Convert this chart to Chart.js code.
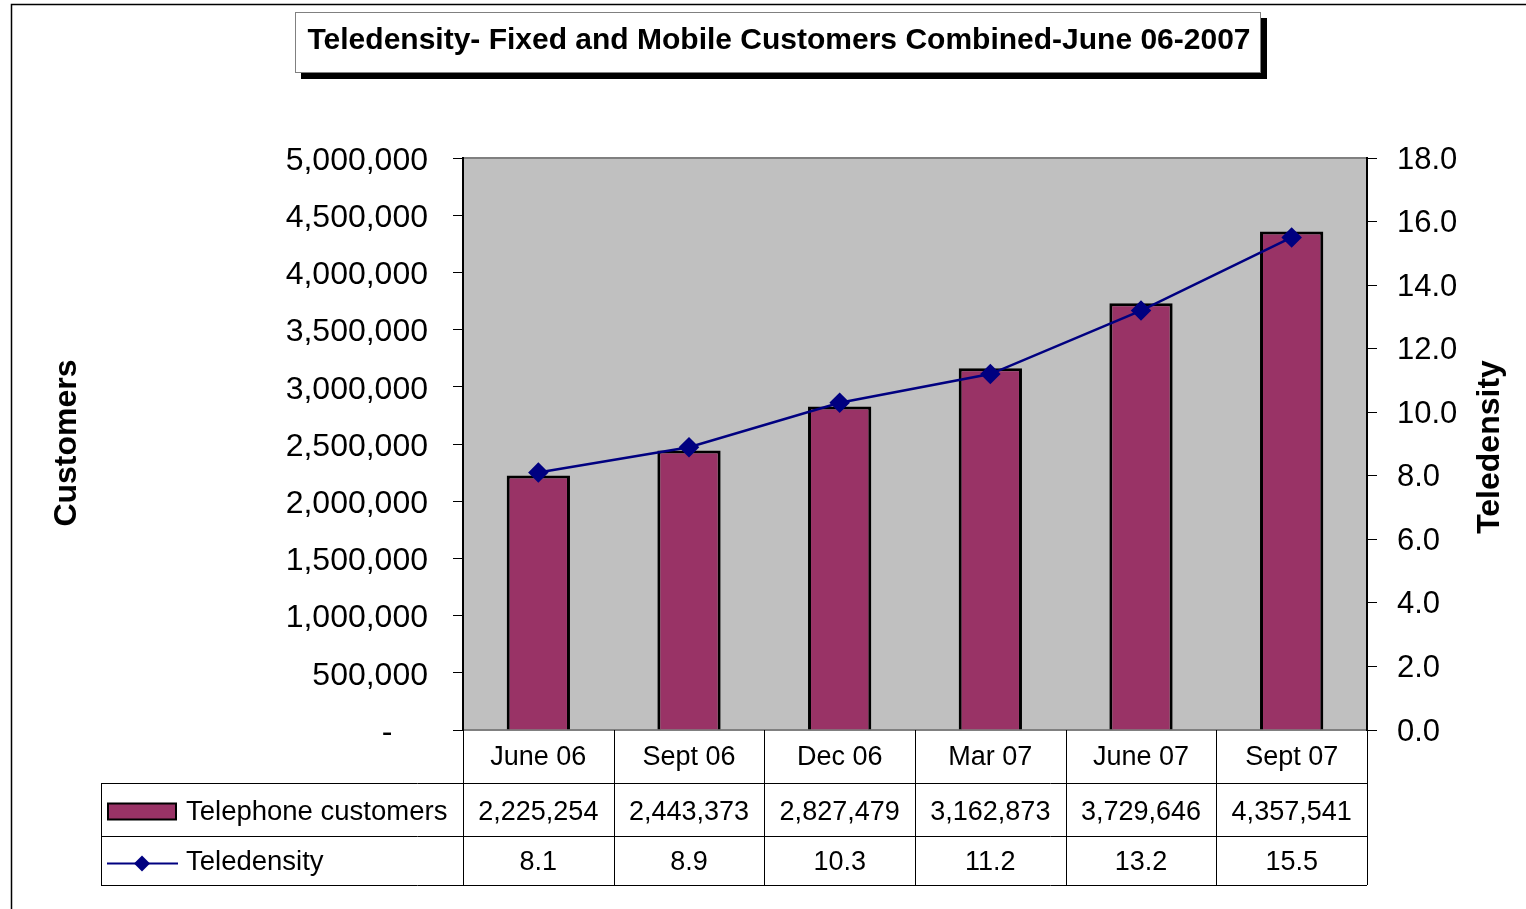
<!DOCTYPE html>
<html>
<head>
<meta charset="utf-8">
<title>Teledensity</title>
<script src="https://cdn.jsdelivr.net/npm/chart.js@4.4.1/dist/chart.umd.min.js"></script>
<style>
  html, body { margin: 0; padding: 0; background: #fff; }
  #wrap { position: relative; width: 1526px; height: 909px; }
</style>
</head>
<body>
<div id="wrap"><canvas id="teleChart"></canvas></div>
<script>
// data
const chartTitle = 'Teledensity- Fixed and Mobile Customers Combined-June 06-2007';
const periods = ['June 06', 'Sept 06', 'Dec 06', 'Mar 07', 'June 07', 'Sept 07'];
const telephoneCustomers = [2225254, 2443373, 2827479, 3162873, 3729646, 4357541];
const teledensity = [8.1, 8.9, 10.3, 11.2, 13.2, 15.5];
const customerTicks = [0, 500000, 1000000, 1500000, 2000000, 2500000, 3000000, 3500000, 4000000, 4500000, 5000000];
const densityTicks = [0, 2, 4, 6, 8, 10, 12, 14, 16, 18];
const seriesNames = ['Telephone customers', 'Teledensity'];
const leftTitle = 'Customers';
const rightTitle = 'Teledensity';

const FONT = '"Liberation Sans", Arial, sans-serif';
const barColor = '#993366';
const lineColor = '#000080';

function fmtCustomers(v) {
    if (v === 0) return '-    ';
    return v.toLocaleString('en-US');
}

// frame, title box, grey plot area
const backdrop = {
    id: 'backdrop',
    beforeDraw(chart) {
        const ctx = chart.ctx;
        const a = chart.chartArea;
        ctx.save();
        ctx.fillStyle = '#c0c0c0';
        ctx.fillRect(a.left, a.top, a.right - a.left, a.bottom - a.top);
        ctx.strokeStyle = '#808080';
        ctx.lineWidth = 2;
        ctx.strokeRect(a.left, a.top, a.right - a.left, a.bottom - a.top);

        // outer frame
        ctx.strokeStyle = '#000';
        ctx.lineWidth = 1.5;
        ctx.beginPath();
        ctx.moveTo(11.5, 909);
        ctx.lineTo(11.5, 4.5);
        ctx.lineTo(1526, 4.5);
        ctx.stroke();

        // title box with shadow
        ctx.fillStyle = '#000';
        ctx.fillRect(301, 18, 966, 61);
        ctx.fillStyle = '#fff';
        ctx.fillRect(295, 12, 965, 60);
        ctx.strokeStyle = '#808080';
        ctx.lineWidth = 1;
        ctx.strokeRect(295.5, 12.5, 965, 60);
        ctx.fillStyle = '#000';
        ctx.font = 'bold 30px ' + FONT;
        ctx.textAlign = 'center';
        ctx.textBaseline = 'middle';
        ctx.fillText(chartTitle, 779, 41);

        // axis titles, both read bottom to top
        ctx.font = 'bold 32px ' + FONT;
        ctx.save();
        ctx.translate(67, 443);
        ctx.rotate(-Math.PI / 2);
        ctx.fillText(leftTitle, 0, 0);
        ctx.restore();
        ctx.save();
        ctx.translate(1490, 447);
        ctx.rotate(-Math.PI / 2);
        ctx.fillText(rightTitle, 0, 0);
        ctx.restore();
        ctx.restore();
    }
};

// data table under the plot
const dataTable = {
    id: 'dataTable',
    afterDraw(chart) {
        const ctx = chart.ctx;
        const a = chart.chartArea;
        const xs = chart.scales.x;
        const half = (xs.getPixelForValue(1) - xs.getPixelForValue(0)) / 2;
        const rowTop = a.bottom + 53;
        const rowMid = rowTop + 53;
        const rowBot = rowMid + 49;
        const tableLeft = 101;

        ctx.save();
        ctx.strokeStyle = '#000';
        ctx.lineWidth = 1;
        ctx.beginPath();
        for (let i = 0; i <= periods.length; i++) {
            const x = Math.round(xs.getPixelForValue(0) - half + i * 2 * half) + 0.5;
            ctx.moveTo(x, a.bottom);
            ctx.lineTo(x, rowBot);
        }
        [rowTop, rowMid, rowBot].forEach(y => {
            ctx.moveTo(tableLeft, y + 0.5);
            ctx.lineTo(a.right, y + 0.5);
        });
        ctx.moveTo(tableLeft + 0.5, rowTop);
        ctx.lineTo(tableLeft + 0.5, rowBot);
        ctx.stroke();

        ctx.fillStyle = '#000';
        ctx.font = '27px ' + FONT;
        ctx.textAlign = 'center';
        ctx.textBaseline = 'middle';
        const y1 = (rowTop + rowMid) / 2 + 3;
        const y2 = (rowMid + rowBot) / 2 + 2;
        periods.forEach((p, i) => {
            const cx = xs.getPixelForValue(i);
            ctx.fillText(fmtCustomers(telephoneCustomers[i]), cx, y1);
            ctx.fillText(teledensity[i].toFixed(1), cx, y2);
        });

        // legend keys
        ctx.textAlign = 'left';
        ctx.font = '27.5px ' + FONT;
        ctx.fillText(seriesNames[0], 186, y1);
        ctx.fillText(seriesNames[1], 186, y2);
        ctx.fillStyle = barColor;
        ctx.fillRect(108, y1 - 9, 68, 16);
        ctx.lineWidth = 2;
        ctx.strokeRect(108, y1 - 9, 68, 16);
        ctx.strokeStyle = lineColor;
        ctx.beginPath();
        ctx.moveTo(107, y2 + 1);
        ctx.lineTo(178, y2 + 1);
        ctx.stroke();
        ctx.fillStyle = lineColor;
        ctx.beginPath();
        ctx.moveTo(142, y2 + 1 - 8);
        ctx.lineTo(150, y2 + 1);
        ctx.lineTo(142, y2 + 1 + 8);
        ctx.lineTo(134, y2 + 1);
        ctx.closePath();
        ctx.fill();
        ctx.restore();
    }
};

const ctx = document.getElementById('teleChart');

new Chart(ctx, {
    data: {
        labels: periods,
        datasets: [{
            type: 'line',
            label: seriesNames[1],
            data: teledensity,
            yAxisID: 'y2',
            order: 0,
            borderColor: lineColor,
            backgroundColor: lineColor,
            borderWidth: 2.5,
            pointStyle: 'rectRot',
            pointRadius: 8.5,
            pointHoverRadius: 8.5,
            pointBackgroundColor: lineColor,
            pointBorderColor: lineColor,
            tension: 0
        }, {
            type: 'bar',
            label: seriesNames[0],
            data: telephoneCustomers,
            yAxisID: 'y',
            order: 1,
            backgroundColor: barColor,
            borderColor: '#000',
            borderWidth: 3,
            barPercentage: 0.42,
            categoryPercentage: 1
        }]
    },
    options: {
        responsive: true,
        maintainAspectRatio: false,
        animation: false,
        layout: { padding: { top: 158, left: 0, right: 0, bottom: 0 } },
        plugins: {
            legend: { display: false },
            title: { display: false },
            tooltip: { enabled: true }
        },
        scales: {
            x: {
                grid: { display: false },
                border: { display: false },
                ticks: { color: '#000', font: { family: FONT, size: 27 }, padding: 3, maxRotation: 0 },
                afterFit: s => { s.height = 179; }
            },
            y: {
                position: 'left',
                min: 0,
                max: 5000000,
                afterBuildTicks: s => { s.ticks = customerTicks.map(v => ({ value: v })); },
                grid: { drawOnChartArea: false, tickLength: 10, color: '#000', lineWidth: 1 },
                border: { color: '#000', width: 2 },
                ticks: { color: '#000', font: { family: FONT, size: 32 }, padding: 25, labelOffset: 3, callback: v => fmtCustomers(v) },
                afterFit: s => { s.width = 463; }
            },
            y2: {
                position: 'right',
                min: 0,
                max: 18,
                afterBuildTicks: s => { s.ticks = densityTicks.map(v => ({ value: v })); },
                grid: { drawOnChartArea: false, tickLength: 10, color: '#000', lineWidth: 1 },
                border: { color: '#000', width: 2 },
                ticks: { color: '#000', font: { family: FONT, size: 31 }, padding: 20, labelOffset: 2, callback: v => v.toFixed(1) },
                afterFit: s => { s.width = 159; }
            }
        }
    },
    plugins: [backdrop, dataTable]
});
</script>
</body>
</html>
